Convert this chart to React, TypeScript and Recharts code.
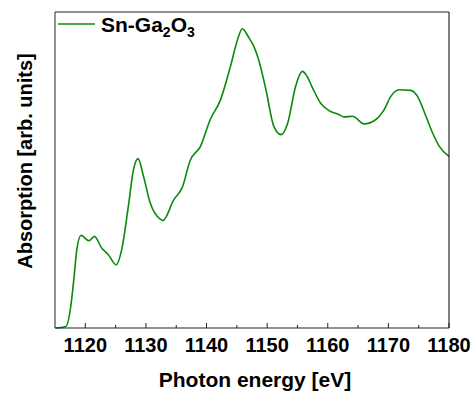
import { LineChart, Line, XAxis, YAxis } from 'recharts';

// Sn L-edge XAS (arb. units, 0 = baseline)
const energy = [
  1115.1, 1116.8, 1117.6, 1118.1, 1118.6, 1119.3, 1120.6, 1121.5, 1122.7, 1123.8,
  1125.1, 1126.0, 1127.1, 1127.95, 1128.7, 1129.6, 1130.7, 1132.3, 1132.8, 1134.6,
  1136.0, 1137.3, 1139.0, 1140.6, 1142.3, 1143.95, 1145.2, 1145.9, 1147.0, 1147.8,
  1148.6, 1149.8, 1151.1, 1152.3, 1153.4, 1154.7, 1155.8, 1156.6, 1157.5, 1158.8,
  1160.2, 1161.9, 1162.7, 1164.1, 1166.0, 1167.9, 1169.3, 1170.4, 1171.8, 1173.7,
  1174.8, 1176.2, 1177.3, 1178.4, 1180.0,
];
const absorption = [
  0, 0.5, 6.8, 15.3, 24.8, 29.3, 27.6, 29.0, 25.3, 23.2,
  20.0, 24.8, 38.5, 50.1, 53.6, 48.0, 39.6, 34.5, 34.0, 40.6,
  44.5, 53.0, 57.5, 65.9, 72.2, 82.8, 91.8, 94.7, 91.8, 89.1,
  84.9, 75.4, 63.8, 61.2, 64.9, 76.5, 81.2, 79.6, 75.9, 71.2,
  68.8, 67.5, 66.8, 67.0, 64.6, 65.9, 69.1, 73.3, 75.4, 75.2,
  73.3, 67.0, 61.7, 57.5, 54.3,
];
const xTicks = [1120, 1125, 1130, 1135, 1140, 1145, 1150, 1155, 1160, 1165, 1170, 1175, 1180];

const data = energy.map((e, i) => ({ energy: e, absorption: absorption[i] }));

const FONT = '"Liberation Sans", Arial, sans-serif';
const AXIS = '#222';
const GREEN = '#0a8a0a';

function EnergyTick({ x, y, payload }: any) {
  const major = payload.value % 10 === 0;
  return (
    <g>
      <line x1={x} x2={x} y1={y} y2={y - (major ? 5 : 3)} stroke={AXIS} strokeWidth={1} />
      {major && (
        <text x={x} y={y + 24} textAnchor="middle" fontFamily={FONT} fontWeight="bold" fontSize={20} fill="#000">
          {payload.value}
        </text>
      )}
    </g>
  );
}

export default function App() {
  return (
    <div style={{ position: 'absolute', left: 0, top: 0, background: '#fff' }}>
      <LineChart width={474} height={394} data={data} margin={{ top: 11, right: 24, bottom: 0, left: 54 }}>
        <XAxis
          dataKey="energy"
          type="number"
          domain={[1115, 1180]}
          ticks={xTicks}
          interval={0}
          height={66}
          tickSize={0}
          tickMargin={0}
          tickLine={false}
          tick={EnergyTick}
          stroke={AXIS}
          label={{
            content: () => (
              <text x={255} y={387} textAnchor="middle" fontFamily={FONT} fontWeight="bold" fontSize={21} fill="#000">
                Photon energy [eV]
              </text>
            ),
          }}
        />
        <XAxis
          xAxisId="top"
          dataKey="energy"
          type="number"
          domain={[1115, 1180]}
          orientation="top"
          height={1}
          tick={false}
          tickLine={false}
          stroke={AXIS}
          label={{
            content: () => (
              <g>
                <line x1={58} x2={95} y1={24} y2={24} stroke={GREEN} strokeWidth={1.5} />
                <text x={101} y={32} fontFamily={FONT} fontWeight="bold" fontSize={21} fill="#000">
                  Sn-Ga
                  <tspan fontSize={14} dy={5}>2</tspan>
                  <tspan dy={-5}>O</tspan>
                  <tspan fontSize={14} dy={5}>3</tspan>
                </text>
              </g>
            ),
          }}
        />
        <YAxis
          domain={[0, 100]}
          width={1}
          tick={false}
          tickLine={false}
          stroke={AXIS}
          label={{
            content: () => (
              <text
                x={32}
                y={161}
                transform="rotate(-90, 32, 161)"
                textAnchor="middle"
                fontFamily={FONT}
                fontWeight="bold"
                fontSize={20}
                fill="#000"
              >
                Absorption [arb. units]
              </text>
            ),
          }}
        />
        <YAxis yAxisId="right" orientation="right" domain={[0, 100]} width={1} tick={false} tickLine={false} stroke="#000" />
        <Line
          type="monotone"
          dataKey="absorption"
          stroke={GREEN}
          strokeWidth={1.6}
          dot={false}
          isAnimationActive={false}
        />
      </LineChart>
    </div>
  );
}
